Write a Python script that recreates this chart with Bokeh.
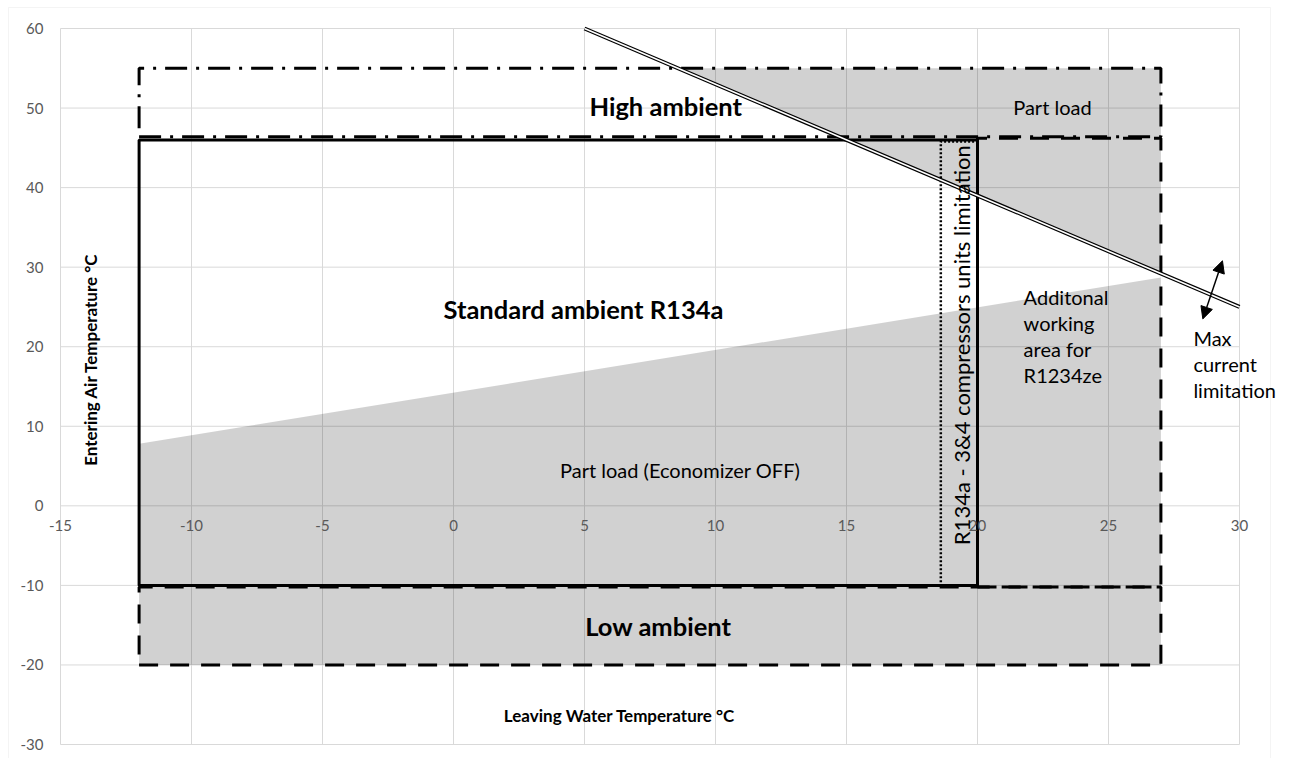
import numpy as np
from bokeh.plotting import figure
from bokeh.models import Range1d, LinearAxis, FixedTicker, Label, Arrow, NormalHead, BoxAnnotation
from bokeh.embed import file_html
from bokeh.resources import INLINE

# ---- data ----
x_ticks = [-15, -10, -5, 0, 5, 10, 15, 20, 25, 30]
y_ticks = [-30, -20, -10, 0, 10, 20, 30, 40, 50, 60]

standard_x = [-12, 20, 20, -12]
standard_y = [-10, -10, 46, 46]
high_x = [-12, 27, 27, -12]
high_y = [46.4, 46.4, 55, 55]
low_x = [-12, 27, 27, -12]
low_y = [-20, -20, -10.2, -10.2]
additional_x = [20, 27, 27, 20]
additional_y = [-10.2, -10.2, 46.2, 46.2]
limit_x = [18.6, 20, 20, 18.6]
limit_y = [-10, -10, 45.8, 45.8]
maxcurrent_x = [5, 30]
maxcurrent_y = [60, 25]
economizer_x = [-12, 27]
economizer_y = [7.8, 28.7]
arrow_x = [29.35, 28.6]
arrow_y = [30.8, 23.5]

FONT = "Lato"

# ---- layout (pixels) ----
W, H = 1289, 758
PX = 1179 / (x_ticks[-1] - x_ticks[0])   # pixels per x unit
PY = 716 / (y_ticks[-1] - y_ticks[0])    # pixels per y unit
frame_left, frame_top = 7, 6
plot_left, plot_top = 60, 28              # page pixel of x=-15 / y=60
x_start = x_ticks[0] - (plot_left - frame_left) / PX
x_end = x_start + (W - frame_left) / PX
y_end = y_ticks[-1] + (plot_top - frame_top) / PY
y_start = y_end - (H - frame_top) / PY

p = figure(width=W, height=H, x_range=Range1d(x_start, x_end), y_range=Range1d(y_start, y_end),
           output_backend="svg", toolbar_location=None,
           x_axis_location=None, y_axis_location=None,
           min_border_left=frame_left, min_border_right=0, min_border_top=frame_top, min_border_bottom=0)
p.outline_line_color = None
p.background_fill_color = "white"
p.border_fill_color = "white"
p.xgrid.visible = False
p.ygrid.visible = False

# outer chart-area border
p.add_layout(BoxAnnotation(left=x_ticks[0] - 52 / PX, right=x_ticks[-1] + 31 / PX,
                           top=y_ticks[-1] + 21 / PY, bottom=y_start - 10,
                           fill_color=None, line_color="#d9d9d9", line_width=1, level="underlay"))

# grid lines (bounded to the plot area)
p.segment(x0=[x_ticks[0]] * len(y_ticks), x1=[x_ticks[-1]] * len(y_ticks), y0=y_ticks, y1=y_ticks,
          line_color="#d9d9d9", line_width=1)
p.segment(x0=x_ticks, x1=x_ticks, y0=[y_ticks[0]] * len(x_ticks), y1=[y_ticks[-1]] * len(x_ticks),
          line_color="#d9d9d9", line_width=1)

# axes
yaxis = LinearAxis(ticker=FixedTicker(ticks=y_ticks), fixed_location=x_ticks[0],
                   major_label_overrides={t: str(t) for t in y_ticks})
xaxis = LinearAxis(ticker=FixedTicker(ticks=x_ticks), fixed_location=0,
                   major_label_overrides={t: str(t) for t in x_ticks})
for ax in (xaxis, yaxis):
    ax.axis_line_color = None
    ax.major_tick_line_color = None
    ax.minor_tick_line_color = None
    ax.major_tick_out = 0
    ax.major_tick_in = 0
    ax.major_label_text_color = "#595959"
    ax.major_label_text_font = FONT
    ax.major_label_text_font_size = "15px"
yaxis.major_label_standoff = 17
xaxis.major_label_standoff = 14
p.add_layout(yaxis, "left")
p.add_layout(xaxis, "below")

# gray fills
fill1_x = [economizer_x[0], economizer_x[1], low_x[1], low_x[0]]
fill1_y = [economizer_y[0], economizer_y[1], low_y[0], low_y[0]]
p.patch(fill1_x, fill1_y, fill_color="black", fill_alpha=0.18, line_color=None)

top = high_y[2]
x_at_top = float(np.interp(top, maxcurrent_y[::-1], maxcurrent_x[::-1]))
y_at_right = float(np.interp(high_x[1], maxcurrent_x, maxcurrent_y))
fill2_x = [x_at_top, high_x[1], high_x[1]]
fill2_y = [top, top, y_at_right]
p.patch(fill2_x, fill2_y, fill_color="black", fill_alpha=0.18, line_color=None)

# outlines
p.patch(low_x, low_y, fill_color=None, line_color="black", line_width=3, line_dash="19 12")
p.patch(additional_x, additional_y, fill_color=None, line_color="black", line_width=3, line_dash="19 12")
p.patch(high_x, high_y, fill_color=None, line_color="black", line_width=3, line_dash="22 9 3 9")
p.patch(standard_x, standard_y, fill_color=None, line_color="black", line_width=3)
p.patch(limit_x, limit_y, fill_color=None, line_color="black", line_width=2.5, line_dash="2 2")

# max current double line
p.line(maxcurrent_x, maxcurrent_y, line_color="black", line_width=4)
p.line(maxcurrent_x, maxcurrent_y, line_color="white", line_width=1.6)

p.add_layout(Arrow(start=NormalHead(size=12, fill_color="black", line_color="black"),
                   end=NormalHead(size=12, fill_color="black", line_color="black"),
                   x_start=arrow_x[0], y_start=arrow_y[0], x_end=arrow_x[1], y_end=arrow_y[1],
                   line_width=1.5, line_color="black"))


def lab(x, y, text, size, bold=False, align="center", angle=0, baseline="middle", lh=1.2):
    p.add_layout(Label(x=x, y=y, text=text, text_font=FONT, text_font_size=size,
                       text_font_style="bold" if bold else "normal", text_color="black",
                       text_align=align, text_baseline=baseline, angle=angle, text_line_height=lh))


lab(8.1, 50.2, "High ambient", "25.5px", bold=True)
lab(22.86, 50.1, "Part load", "20px")
lab(4.96, 24.7, "Standard ambient R134a", "25.5px", bold=True)
lab(8.65, 4.5, "Part load (Economizer OFF)", "20px")
lab(7.82, -15.1, "Low ambient", "25.5px", bold=True)
lab(21.76, 27.7, "Additonal\nworking\narea for\nR1234ze", "20px", align="left", baseline="top", lh=1.08)
lab(28.24, 22.6, "Max\ncurrent\nlimitation", "20px", align="left", baseline="top", lh=1.08)
lab(19.39, 20.9, "R134a  - 3&4  compressors units limitation", "22px", angle=np.pi / 2)
lab(-13.85, 18.4, "Entering Air Temperature °C", "17px", bold=True, angle=np.pi / 2)
lab(6.34, -26.3, "Leaving Water Temperature °C", "17px", bold=True)

open("out.html", "w").write(file_html(p, INLINE))
